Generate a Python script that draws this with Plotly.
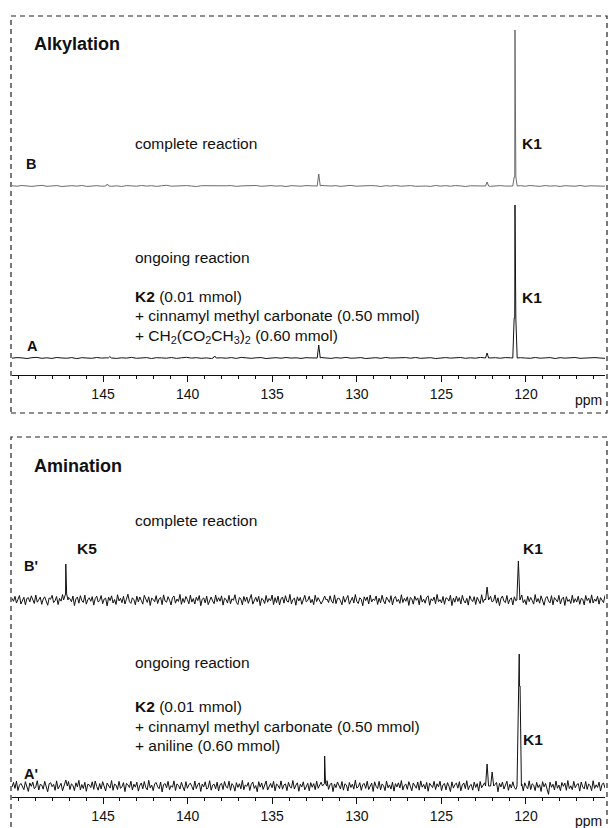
import numpy as np
import plotly.graph_objects as go

# ---------------- data ----------------
PPM_LEFT, PPM_RIGHT = 150.38, 115.33
tick_vals = [145, 140, 135, 130, 125, 120]
tick_text = ["145", "140", "135", "130", "125", "120"]

# Alkylation, trace B (complete reaction)
B_noise = [0.3,-0.2,0.5,0.1,-0.4,0.2,0.6,-0.3,0.0,0.4,-0.5,0.2,0.3,-0.1,0.5,-0.4,0.1,0.3,-0.2,0.6,
           -0.3,0.2,-0.5,0.4,0.1,-0.2,0.5,-0.1,0.3,-0.4,0.2,0.7,-0.2,0.1,-0.3,0.4,0.0,-0.5,0.3,0.2,
           -0.1,0.5,-0.3,0.2,0.4,-0.4,0.1,0.3,-0.2,0.5,-0.3,0.0,0.4,-0.1,0.2,-0.5,0.3,0.1,-0.2,0.4,
           0.2,-0.3,0.5,-0.1,0.0,0.3,-0.4,0.2,0.6,-0.2,0.1,-0.3,0.4,0.2,-0.5,0.3,-0.1,0.5,-0.2,0.1,
           0.4,-0.3,0.2,0.0,-0.4,0.5,-0.1,0.3,-0.2,0.4,0.1,-0.5,0.2,0.3,-0.2,0.5,-0.3,0.1,0.4,-0.1,
           -0.4,0.2,0.3,-0.2,0.5,0.0,-0.3,0.4,-0.1,0.2,-0.4,0.3,0.1,-0.2,0.5,-0.3,0.2,0.0,0.4,-0.2]
B_peak_ppm = [144.75, 132.25, 122.30, 120.65]
B_peak_h = [2.0, 12.0, 4.0, 156.0]
B_peak_foot = [0.0, 0.0, 0.0, 9.0]

# Alkylation, trace A (ongoing reaction)
A_noise = [-0.2,0.4,0.1,-0.5,0.3,0.6,-0.3,0.2,-0.4,0.5,0.0,-0.2,0.4,-0.6,0.3,0.1,-0.3,0.5,-0.1,0.2,
           0.5,-0.4,0.2,-0.1,0.6,-0.3,0.0,0.4,-0.5,0.3,0.1,-0.2,0.5,-0.4,0.2,0.7,-0.1,0.3,-0.3,0.1,
           -0.5,0.3,0.2,-0.2,0.4,-0.4,0.6,0.0,-0.3,0.2,0.4,-0.5,0.1,0.3,-0.2,0.5,-0.1,0.2,-0.4,0.3,
           0.1,-0.3,0.5,0.2,-0.4,0.3,-0.1,0.6,-0.2,0.0,0.4,-0.5,0.2,0.3,-0.3,0.5,-0.1,0.1,-0.4,0.4,
           -0.2,0.5,-0.3,0.1,0.3,-0.5,0.2,0.4,-0.1,0.0,0.5,-0.3,0.2,-0.2,0.6,-0.4,0.1,0.3,-0.2,0.4,
           0.2,-0.4,0.3,0.0,-0.3,0.5,-0.2,0.1,0.4,-0.5,0.3,-0.1,0.2,0.5,-0.3,0.1,-0.2,0.4,0.0,-0.3]
A_peak_ppm = [144.6, 138.4, 132.25, 122.30, 120.65]
A_peak_h = [1.5, 2.0, 13.0, 5.0, 153.0]
A_peak_foot = [0.0, 0.0, 0.0, 0.0, 40.0]

# Amination, trace B' (complete reaction)
Bp_noise = [1.1,-0.8,2.3,-1.9,0.4,2.8,-2.5,-0.6,1.7,-3.0,0.9,1.5,-1.2,2.6,-0.3,-2.2,3.1,-1.4,0.2,1.8,
            -2.7,0.6,2.0,-0.9,-3.3,1.3,0.5,2.9,-1.6,-0.4,2.2,-2.9,1.0,-0.7,3.4,-1.8,0.3,-2.4,1.6,0.8,
            -1.1,2.5,-3.5,0.7,1.9,-2.0,2.7,-0.5,-1.5,3.0,-2.6,0.1,1.4,-0.8,2.1,-3.2,0.9,2.4,-1.3,-0.2,
            2.8,-2.3,0.6,1.2,-3.7,1.8,-0.4,2.6,-1.9,0.3,-2.8,3.3,-0.6,1.1,-1.7,2.3,-2.5,0.5,3.6,-1.0,
            -2.1,1.4,0.2,-3.0,2.4,-1.2,1.9,-0.3,-2.6,2.9,0.7,-1.5,2.0,-3.4,1.2,0.4,-1.1,2.7,-2.2,0.8,
            1.6,-2.9,3.2,-0.7,-1.4,2.1,-0.1,-3.1,1.5,2.5,-2.0,0.6,-0.9,3.5,-2.7,1.0,-1.6,2.2,0.3,-2.4,
            3.0,-1.3,0.9,-2.5,1.7,-0.4,2.8,-3.6,0.5,1.3,-1.8,2.4,-2.9,0.2,1.9,-0.6,-2.3,3.1,-1.0,1.4,
            -0.8,2.6,-3.2,1.1,0.4,-1.9,2.9,-2.4,0.8,-0.2,3.3,-1.5,-2.8,1.6,0.6,-3.0,2.2,-0.9,1.8,-2.1,
            0.5,3.4,-2.6,-0.4,1.7,-1.1,2.3,-3.5,1.0,0.2,-2.2,2.8,-1.4,0.9,-0.5,3.1,-2.9,1.5,-1.7,2.5,
            -3.1,0.7,1.9,-2.0,2.7,-0.8,-1.3,3.5,-2.4,0.3,1.2,-3.3,2.0,-0.6,1.6,-2.7,0.8,2.9,-1.2,-0.3,
            2.4,-1.8,0.4,-2.9,3.0,-1.0,1.5,-0.2,-2.5,2.1,-3.4,1.3,0.6,-1.6,2.6,-0.7,-2.0,3.2,-2.3,0.9,
            1.2,-0.5,-3.0,2.3,-1.4,0.8,2.8,-2.6,0.1,1.7,-1.9,3.4,-0.9,-2.2,1.4,0.5,-3.6,2.0,-0.4,1.9,
            -2.5,3.1,-1.2,0.6,-0.3,2.5,-2.8,1.1,-1.7,3.0,-0.6,-2.4,1.8,0.3,-1.5,2.7,-3.1,0.9,2.2,-1.0,
            0.4,-2.1,3.3,-1.6,1.0,-0.8,2.0,-3.4,1.6,0.7,-2.6,2.4,-0.2,1.3,-3.0,2.9,-1.3,0.5,-2.0,1.7,
            2.6,-3.3,0.8,-0.5,1.9,-2.3,3.5,-1.1,0.2,-1.8,2.2,-2.7,1.4,0.9,-0.7,3.0,-3.5,1.2,-1.4,2.4,
            -0.9,1.5,-2.5,2.9,-0.4,-1.9,1.1,-3.2,2.6,0.3,-1.0,2.1,-2.8,1.7,-0.1,-2.3,3.3,-1.5,0.6,1.9,
            -2.9,0.8,2.3,-1.2,-0.6,3.2,-2.0,1.4,-3.5,1.0,2.5,-0.8,-1.6,2.8,-2.4,0.4,1.3,-3.1,2.0,-0.5,
            1.8,-2.2,0.6,3.1,-1.7,0.2,-2.9,2.4,-1.0,1.6,-0.3,-2.6,3.4,-1.3,0.9,-2.0,2.6,-0.7,-3.3,1.1,
            2.2,-0.6,-1.8,2.7,-3.0,1.5,0.4,-1.2,2.9,-2.5,0.7,1.8,-3.4,2.1,-0.9,0.3,-2.2,3.0,-1.6,0.8,
            -1.3,2.4,-2.7,1.0,0.5,-3.1,2.8,-0.4,1.2,-2.0,3.2,-1.9,0.6,-0.8,2.3,-2.6,1.5,0.1,-1.7,2.9]
Bp_peak_ppm = [147.20, 131.90, 122.30, 120.45]
Bp_peak_h = [22.5, 2.5, 8.1, 24.4]
Bp_peak_foot = [3.75, 0.0, 0.0, 0.0]

# Amination, trace A' (ongoing reaction)
Ap_noise = [-0.7,2.2,-1.5,3.0,-2.8,0.5,1.6,-0.9,-2.3,2.7,0.3,-3.4,1.9,-0.2,2.4,-1.7,-0.6,3.3,-2.5,1.0,
            0.6,-2.0,2.9,-1.1,-3.6,1.4,2.1,-0.4,1.0,-2.7,3.2,-1.8,0.2,1.7,-3.0,2.5,-0.8,-1.4,2.8,-2.2,
            1.3,0.4,-2.9,2.0,-0.5,3.5,-2.4,0.9,-1.6,2.3,-3.3,1.1,0.7,-1.0,2.6,-2.1,3.1,-0.3,-2.6,1.5,
            -1.9,2.7,-0.6,-3.1,1.8,0.1,-1.3,3.4,-2.7,1.2,0.5,-2.2,2.9,-1.5,-0.4,2.1,-3.5,1.6,0.8,-1.0,
            3.0,-2.5,1.1,-0.7,2.4,-3.2,0.3,1.9,-1.8,2.8,-0.9,-2.4,3.6,-1.2,0.6,-2.9,1.4,2.2,-0.5,-1.7,
            2.5,-3.7,0.9,1.5,-1.1,2.9,-2.3,0.2,-0.8,3.2,-2.8,1.3,0.4,-1.9,2.3,-0.6,-3.0,2.7,-1.4,0.7,
            1.8,-0.3,-2.5,3.1,-1.6,0.8,2.0,-3.4,1.2,-0.5,2.6,-2.0,-1.0,3.3,-2.6,0.5,1.1,-1.7,2.4,-3.1,
            0.9,1.6,-2.2,2.8,-0.4,-1.3,3.0,-2.7,1.5,0.2,-3.2,2.1,-0.9,1.4,-1.8,3.5,-2.3,0.6,-0.2,2.2,
            -2.8,1.0,2.5,-1.5,0.3,-3.6,2.7,-0.7,1.9,-2.1,0.8,3.1,-2.5,-0.3,1.6,-1.1,2.9,-3.0,1.2,0.4,
            -1.6,3.2,-2.0,0.7,1.3,-2.9,2.3,-0.5,-1.2,3.4,-1.9,0.5,2.0,-3.3,1.1,-0.6,2.6,-2.4,0.2,1.7,
            -3.0,2.1,-0.8,1.5,-2.3,3.0,-1.4,0.1,2.4,-2.8,1.0,-0.4,3.3,-2.1,0.8,1.9,-3.5,1.3,-1.0,2.5,
            0.3,-1.8,2.8,-2.6,1.4,0.6,-3.1,2.2,-0.9,1.1,-2.0,3.6,-1.3,-0.5,2.1,-2.7,0.9,1.6,-1.5,3.0,
            -2.2,0.5,1.8,-3.4,2.6,-0.2,-1.6,2.9,-2.4,1.3,0.2,-2.9,3.1,-1.1,0.7,-1.9,2.4,-3.2,1.5,-0.6,
            2.0,-1.2,3.4,-2.5,0.4,1.2,-2.1,2.7,-0.8,-3.0,1.9,0.6,-1.4,2.5,-2.6,3.2,-0.7,1.0,-1.8,2.3,
            -3.3,1.7,0.3,-1.0,2.9,-2.2,1.4,-0.5,3.0,-2.9,0.8,1.6,-2.4,2.1,-0.1,-3.5,2.6,-1.3,0.9,1.8,
            -1.4,2.7,-3.0,0.6,1.9,-1.6,3.3,-2.3,0.2,1.0,-2.6,2.4,-0.9,1.5,-3.2,2.8,-1.1,0.4,2.0,-2.5,
            1.2,-0.4,-2.8,3.1,-1.5,0.9,2.2,-3.6,1.7,-0.6,2.5,-1.9,0.3,3.0,-2.7,1.1,-1.2,2.6,-0.8,-2.1,
            2.9,-2.4,0.7,1.3,-3.1,2.0,-0.3,-1.7,3.2,-2.2,1.4,0.5,-2.9,2.3,-1.0,0.8,-3.4,2.7,-0.5,1.6,
            -1.9,-5.2,2.4,-0.8,1.1,-2.5,3.1,-1.4,0.6,-3.0,2.2,-0.2,1.8,-2.7,3.4,-1.6,0.1,-2.3,2.9,-1.1,
            0.9,1.5,-3.2,2.5,-0.6,-1.8,2.8,-2.1,1.2,0.3,-2.9,3.3,-1.5,0.7,-0.9,2.4,-3.1,1.0,1.9,-1.3]
Ap_peak_ppm = [147.20, 131.90, 122.30, 122.00, 120.40]
Ap_peak_h = [3.75, 18.75, 13.75, 8.75, 82.5]
Ap_peak_foot = [0.0, 1.5, 0.0, 0.0, 62.5]

# ---------------- helpers ----------------
W, H = 609, 828


def px(x):
    return x / W


def py(y):
    return 1 - y / H


def build(noise, pk_ppm, pk_h, pk_foot):
    grid = np.linspace(PPM_LEFT, PPM_RIGHT, len(noise))
    pts = [(g, n) for g, n in zip(grid, noise) if all(abs(g - c) > 0.13 for c in pk_ppm)]
    for c, h, f in zip(pk_ppm, pk_h, pk_foot):
        if f > 0:
            pts += [(c + 0.13, 0), (c + 0.05, f), (c + 0.015, f), (c, h),
                    (c - 0.015, f), (c - 0.05, f), (c - 0.13, 0)]
        else:
            pts += [(c + 0.09, 0), (c, h), (c - 0.09, 0)]
    pts.sort(key=lambda p: -p[0])
    return [p[0] for p in pts], [p[1] for p in pts]


fig = go.Figure()

spectra = [
    (B_noise, B_peak_ppm, B_peak_h, B_peak_foot, "x", "y", "#6a6a6a"),
    (A_noise, A_peak_ppm, A_peak_h, A_peak_foot, "x", "y2", "#111111"),
    (Bp_noise, Bp_peak_ppm, Bp_peak_h, Bp_peak_foot, "x2", "y3", "#111111"),
    (Ap_noise, Ap_peak_ppm, Ap_peak_h, Ap_peak_foot, "x2", "y4", "#111111"),
]
for noise, pp, ph, pf, xa, ya, col in spectra:
    xs, ys = build(noise, pp, ph, pf)
    fig.add_trace(go.Scatter(x=xs, y=ys, mode="lines", xaxis=xa, yaxis=ya,
                             line=dict(color=col, width=1), showlegend=False,
                             hoverinfo="skip"))

XDOM = [px(12), px(605)]
FONT = "Liberation Sans, Arial, sans-serif"


def xaxis_cfg(pos_px):
    return dict(domain=XDOM, range=[PPM_LEFT, PPM_RIGHT], anchor="free",
                position=py(pos_px), showline=True, linecolor="#111", linewidth=1,
                ticks="outside", ticklen=6, tickcolor="#111", tickwidth=1,
                tickmode="array", tickvals=tick_vals, ticktext=tick_text,
                minor=dict(dtick=1, tick0=0, ticks="outside", ticklen=3,
                           tickcolor="#111", tickwidth=1),
                showgrid=False, zeroline=False,
                tickfont=dict(family=FONT, size=14, color="#111"))


def yaxis_cfg(base_px, top_px, bottom_px, px_per_unit=1.0):
    # value 0 sits on the baseline
    return dict(domain=[py(bottom_px), py(top_px)],
                range=[-(bottom_px - base_px) / px_per_unit, (base_px - top_px) / px_per_unit],
                visible=False, showgrid=False, zeroline=False, anchor="x")


fig.update_layout(
    width=W, height=H, margin=dict(l=0, r=0, t=0, b=0),
    paper_bgcolor="white", plot_bgcolor="rgba(0,0,0,0)",
    xaxis=xaxis_cfg(375),
    xaxis2=xaxis_cfg(797),
    yaxis=yaxis_cfg(186, 20, 200),
    yaxis2=yaxis_cfg(358, 195, 372),
    yaxis3=yaxis_cfg(600, 540, 614, 1.6),
    yaxis4=yaxis_cfg(786, 640, 800, 1.6),
)

# dashed frames
for y0, y1 in [(16, 413), (437, 840)]:
    fig.add_shape(type="rect", xref="paper", yref="paper",
                  x0=px(11), x1=px(607), y0=py(y1), y1=py(y0),
                  line=dict(color="#222", width=1.2, dash="5px,4px"))


def label(x, y, text, size=15.5, bold=False):
    fig.add_annotation(xref="paper", yref="paper", x=px(x), y=py(y),
                       xanchor="left", yanchor="middle", showarrow=False,
                       text=f"<b>{text}</b>" if bold else text,
                       font=dict(family=FONT, size=size, color="#111"))


# panel 1
label(32, 44, "Alkylation", 18, True)
label(133, 143, "complete reaction")
label(24, 164, "B", 14.5, True)
label(520, 143, "K1", 15.5, True)
label(133, 257, "ongoing reaction")
label(133, 296, "<b>K2</b> (0.01 mmol)")
label(133, 316, "+ cinnamyl methyl carbonate (0.50 mmol)")
label(133, 336, "+ CH<sub>2</sub>(CO<sub>2</sub>CH<sub>3</sub>)<sub>2</sub> (0.60 mmol)")
label(520, 297, "K1", 15.5, True)
label(25, 346, "A", 14.5, True)
label(573, 400, "ppm", 14)

# panel 2
label(32, 466, "Amination", 18, True)
label(133, 520, "complete reaction")
label(75, 548, "K5", 15.5, True)
label(521, 548, "K1", 15.5, True)
label(22, 566, "B'", 14.5, True)
label(133, 662, "ongoing reaction")
label(133, 706, "<b>K2</b> (0.01 mmol)")
label(133, 726, "+ cinnamyl methyl carbonate (0.50 mmol)")
label(133, 745, "+ aniline (0.60 mmol)")
label(521, 739, "K1", 15.5, True)
label(22, 774, "A'", 14.5, True)
label(573, 821, "ppm", 14)

fig.write_html("out.html", config={"displayModeBar": False},
               post_script="document.body.style.margin='0';")
